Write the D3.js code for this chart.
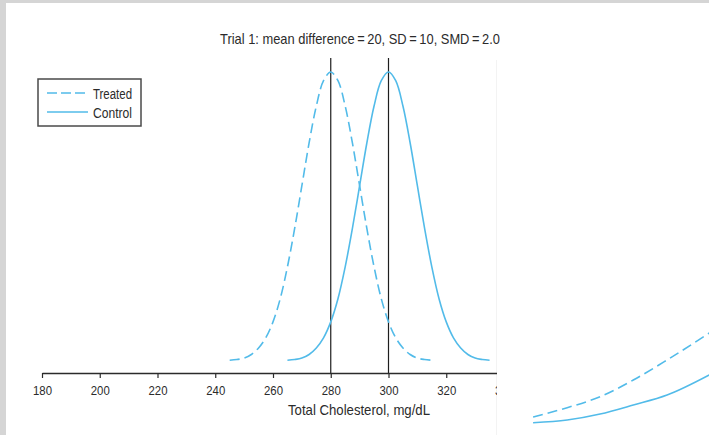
<!DOCTYPE html>
<html>
<head>
<meta charset="utf-8">
<script src="https://cdn.jsdelivr.net/npm/d3@7"></script>
<style>
  body { margin: 0; background: #ffffff; }
  text { font-family: "Liberation Sans", Arial, sans-serif; fill: #2b2b2b; }
</style>
</head>
<body>
<div id="chart"></div>
<script>
// values
var xTicks = [180, 200, 220, 240, 260, 280, 300, 320, 340];
var meanLines = [280, 300];

var treatedX = [245, 247.5, 250, 252.5, 255, 257.5, 260, 262.5, 265, 267.5, 270, 272.5, 275, 277.5, 280,
  282.5, 285, 287.5, 290, 292.5, 295, 297.5, 300, 302.5, 305, 307.5, 310, 312.5, 315];
var controlX = [265, 267.5, 270, 272.5, 275, 277.5, 280, 282.5, 285, 287.5, 290, 292.5, 295, 297.5, 300,
  302.5, 305, 307.5, 310, 312.5, 315, 317.5, 320, 322.5, 325, 327.5, 330, 332.5, 335];
var treatedDensity = [0.0001, 0.0002, 0.0004, 0.0009, 0.0018, 0.0032, 0.0054, 0.0086, 0.0130, 0.0183,
  0.0242, 0.0301, 0.0352, 0.0387, 0.0399, 0.0387, 0.0352, 0.0301, 0.0242, 0.0183, 0.0130, 0.0086,
  0.0054, 0.0032, 0.0018, 0.0009, 0.0004, 0.0002, 0.0001];
var controlDensity = [0.0001, 0.0002, 0.0004, 0.0009, 0.0018, 0.0032, 0.0054, 0.0086, 0.0130, 0.0183,
  0.0242, 0.0301, 0.0352, 0.0387, 0.0399, 0.0387, 0.0352, 0.0301, 0.0242, 0.0183, 0.0130, 0.0086,
  0.0054, 0.0032, 0.0018, 0.0009, 0.0004, 0.0002, 0.0001];

// cut-off piece of the neighbouring panel (right edge)
var nextX = [178.3, 190.1, 201.5, 213.0, 224.7, 239.3];
var nextTreated = [0.00097, 0.00225, 0.00377, 0.00607, 0.00884, 0.01256];
var nextControl = [0.00018, 0.00055, 0.00138, 0.00262, 0.00400, 0.00677];

var seriesNames = ["Treated", "Control"];

var blue = "#52bbe9";
var dash = "10,5";

var width = 709, height = 435;

// the source font is a condensed grotesk, squeeze Liberation Sans to the same width
function squeeze(sel, len) {
  sel.attr("textLength", len).attr("lengthAdjust", "spacingAndGlyphs");
}

var svg = d3.select("#chart")
  .append("svg")
  .attr("width", width)
  .attr("height", height);

// grey page frame
svg.append("rect").attr("x", 0).attr("y", 0).attr("width", width).attr("height", 3).attr("fill", "#d5d5d5");
svg.append("rect").attr("x", 0).attr("y", 0).attr("width", 6).attr("height", height).attr("fill", "#d5d5d5");

var defs = svg.append("defs");
defs.append("clipPath").attr("id", "clipMain")
  .append("rect").attr("x", 6).attr("y", 3).attr("width", 491).attr("height", height);
defs.append("clipPath").attr("id", "clipNext")
  .append("rect").attr("x", 498).attr("y", 3).attr("width", 211).attr("height", height);

// faint seam between the two panels
svg.append("line")
  .attr("x1", 496.5).attr("x2", 496.5).attr("y1", 60).attr("y2", height)
  .attr("stroke", "#f3f3f3").attr("stroke-width", 1);

var main = svg.append("g").attr("clip-path", "url(#clipMain)");

// scales
var xScale = d3.scaleLinear().domain([180, 360]).range([42, 42 + 180 * 2.8875]);
var yScale = d3.scaleLinear().domain([0, 0.0399]).range([361, 72]);
var axisY = 373;

var line = d3.line()
  .x(function (d) { return xScale(d[0]); })
  .y(function (d) { return yScale(d[1]); })
  .curve(d3.curveCatmullRom);

// vertical lines at the two means
main.selectAll(".mean")
  .data(meanLines)
  .join("line")
  .attr("class", "mean")
  .attr("x1", function (d) { return xScale(d); })
  .attr("x2", function (d) { return xScale(d); })
  .attr("y1", 58)
  .attr("y2", axisY)
  .attr("stroke", "#1e1e1e")
  .attr("stroke-width", 1.2);

// density curves
main.append("path")
  .datum(treatedX.map(function (x, i) { return [x, treatedDensity[i]]; }))
  .attr("d", line)
  .attr("fill", "none")
  .attr("stroke", blue)
  .attr("stroke-width", 1.6)
  .attr("stroke-dasharray", dash);

main.append("path")
  .datum(controlX.map(function (x, i) { return [x, controlDensity[i]]; }))
  .attr("d", line)
  .attr("fill", "none")
  .attr("stroke", blue)
  .attr("stroke-width", 1.6);

// x axis
var xAxis = main.append("g")
  .attr("transform", "translate(0," + axisY + ")")
  .call(d3.axisBottom(xScale).tickValues(xTicks).tickSize(5).tickSizeOuter(0).tickPadding(8));
xAxis.select(".domain").attr("stroke", "#2b2b2b").attr("stroke-width", 1.5);
xAxis.selectAll(".tick line").attr("stroke", "#2b2b2b").attr("stroke-width", 1.2);
xAxis.selectAll(".tick text")
  .attr("font-size", 13)
  .style("font-family", "\"Liberation Sans\", Arial, sans-serif")
  .attr("fill", "#2b2b2b")
  .call(squeeze, 19);

// axis title
main.append("text")
  .attr("x", 288)
  .attr("y", 415)
  .attr("font-size", 14.5)
  .text("Total Cholesterol, mg/dL")
  .call(squeeze, 142);

// chart title (not clipped, it runs a little past the panel edge)
svg.append("text")
  .attr("x", 220)
  .attr("y", 44)
  .attr("font-size", 15)
  .text("Trial 1: mean difference\u2009=\u200920, SD\u2009=\u200910, SMD\u2009=\u20092.0")
  .call(squeeze, 280);

// legend
var legend = main.append("g");
legend.append("rect")
  .attr("x", 38).attr("y", 79).attr("width", 103).attr("height", 47)
  .attr("fill", "#ffffff").attr("stroke", "#4a4a4a").attr("stroke-width", 1.5);

var legendItem = legend.selectAll(".item")
  .data(seriesNames)
  .join("g")
  .attr("class", "item")
  .attr("transform", function (d, i) { return "translate(0," + (93 + i * 19) + ")"; });

legendItem.append("line")
  .attr("x1", 47).attr("x2", 88)
  .attr("stroke", blue).attr("stroke-width", 1.4)
  .attr("stroke-dasharray", function (d, i) { return i == 0 ? "10,4" : null; });

legendItem.append("text")
  .attr("x", 93)
  .attr("y", 6)
  .attr("font-size", 14)
  .text(function (d) { return d; })
  .call(squeeze, 39);

// neighbouring panel fragment
var next = svg.append("g").attr("clip-path", "url(#clipNext)");
var xNext = d3.scaleLinear().domain([180, 240]).range([538, 538 + 60 * 2.8875]);
var yNext = d3.scaleLinear().domain([0, 0.0399]).range([424, 135]);
var lineNext = d3.line()
  .x(function (d) { return xNext(d[0]); })
  .y(function (d) { return yNext(d[1]); })
  .curve(d3.curveMonotoneX);

next.append("path")
  .datum(nextX.map(function (x, i) { return [x, nextTreated[i]]; }))
  .attr("d", lineNext)
  .attr("fill", "none")
  .attr("stroke", blue)
  .attr("stroke-width", 1.6)
  .attr("stroke-dasharray", dash);

next.append("path")
  .datum(nextX.map(function (x, i) { return [x, nextControl[i]]; }))
  .attr("d", lineNext)
  .attr("fill", "none")
  .attr("stroke", blue)
  .attr("stroke-width", 1.6);
</script>
</body>
</html>
